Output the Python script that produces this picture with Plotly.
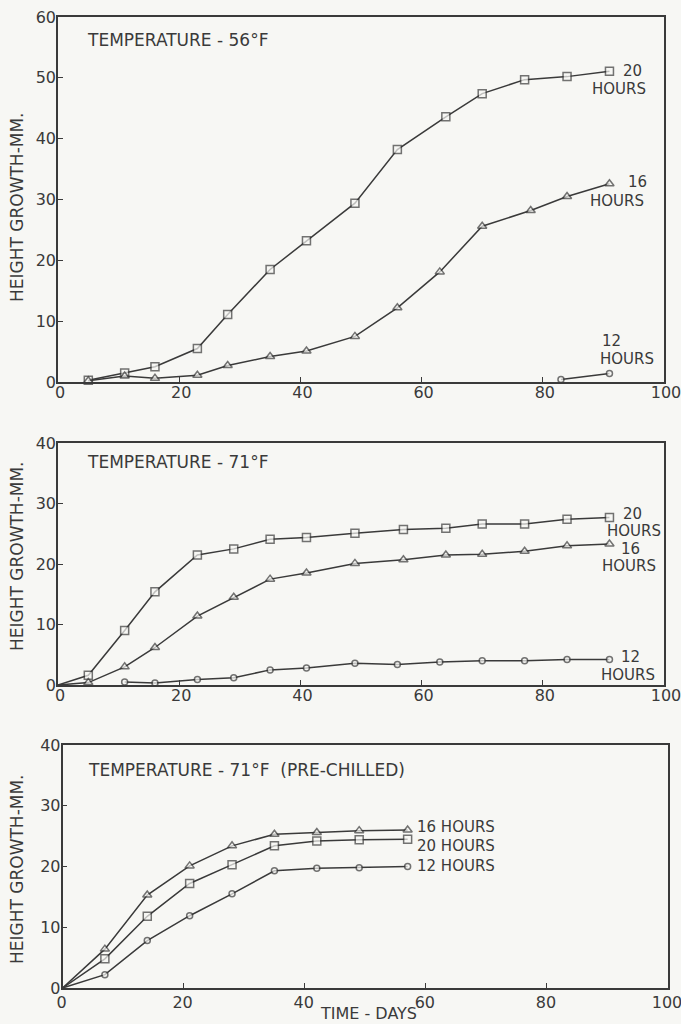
import plotly.graph_objects as go

# ---------------- data ----------------
# Panel 1: Temperature 56°F
p1_days_20 = [5, 11, 16, 23, 28, 35, 41, 49, 56, 64, 70, 77, 84, 91]
p1_h20 = [0.3, 1.5, 2.5, 5.5, 11.1, 18.5, 23.2, 29.4, 38.2, 43.6, 47.4, 49.7, 50.2, 51.1]
p1_days_16 = [5, 11, 16, 23, 28, 35, 41, 49, 56, 63, 70, 78, 84, 91]
p1_h16 = [0.2, 1.0, 0.6, 1.1, 2.7, 4.2, 5.1, 7.5, 12.2, 18.1, 25.6, 28.2, 30.5, 32.6]
p1_days_12 = [83, 91]
p1_h12 = [0.4, 1.4]

# Panel 2: Temperature 71°F
p2_days = [0, 5, 11, 16, 23, 29, 35, 41, 49, 57, 64, 70, 77, 84, 91]
p2_h20 = [0, 1.6, 9.0, 15.4, 21.5, 22.5, 24.1, 24.4, 25.1, 25.7, 25.9, 26.6, 26.6, 27.4, 27.7]
p2_h16 = [0, 0.4, 3.0, 6.2, 11.4, 14.5, 17.5, 18.5, 20.1, 20.7, 21.5, 21.6, 22.1, 23.0, 23.3]
p2_days_12 = [11, 16, 23, 29, 35, 41, 49, 56, 63, 70, 77, 84, 91]
p2_h12 = [0.5, 0.35, 0.9, 1.2, 2.5, 2.8, 3.6, 3.4, 3.8, 4.0, 4.0, 4.2, 4.2]

# Panel 3: Temperature 71°F (pre-chilled)
p3_days = [0, 7, 14, 21, 28, 35, 42, 49, 57]
p3_h16 = [0, 6.4, 15.3, 20.1, 23.4, 25.3, 25.6, 25.9, 26.0]
p3_h20 = [0, 4.8, 11.8, 17.2, 20.3, 23.4, 24.2, 24.4, 24.5]
p3_h12 = [0, 2.2, 7.8, 11.9, 15.5, 19.3, 19.7, 19.8, 20.0]

x_ticks = [0, 20, 40, 60, 80, 100]
p1_yticks = [0, 10, 20, 30, 40, 50, 60]
p23_yticks = [0, 10, 20, 30, 40]

titles = ["TEMPERATURE - 56°F", "TEMPERATURE - 71°F", "TEMPERATURE - 71°F  (PRE-CHILLED)"]
y_title = "HEIGHT GROWTH-MM."
x_title = "TIME - DAYS"

# ---------------- style ----------------
INK = "#3a3a3a"
BG = "#f7f7f4"
FONT = "DejaVu Sans"
W, H = 681, 1024

fig = go.Figure()


def series(x, y, symbol, size, xa, ya, skip_origin=False):
    sizes = [size] * len(x)
    if skip_origin:
        sizes[0] = 0
    fig.add_trace(go.Scatter(
        x=x, y=y, mode="lines+markers", xaxis=xa, yaxis=ya,
        line=dict(color=INK, width=1.5),
        marker=dict(symbol=symbol, size=sizes, color=BG,
                    line=dict(color=INK, width=1.5)),
        showlegend=False, hoverinfo="skip", cliponaxis=False))


series(p1_days_20, p1_h20, "square", 8, "x", "y")
series(p1_days_16, p1_h16, "triangle-up", 8, "x", "y")
series(p1_days_12, p1_h12, "circle", 6, "x", "y")

series(p2_days, p2_h20, "square", 8, "x2", "y2", True)
series(p2_days, p2_h16, "triangle-up", 8, "x2", "y2", True)
series(p2_days_12, p2_h12, "circle", 6, "x2", "y2")

series(p3_days, p3_h16, "triangle-up", 8, "x3", "y3", True)
series(p3_days, p3_h20, "square", 8, "x3", "y3", True)
series(p3_days, p3_h12, "circle", 6, "x3", "y3", True)


def px_to_dom(a, b, total, flip=False):
    if flip:
        return [1 - b / total, 1 - a / total]
    return [a / total, b / total]


axis_common = dict(showline=True, mirror=True, linecolor=INK, linewidth=1.6,
                   showgrid=False, zeroline=False, ticks="inside", ticklen=5,
                   tickcolor=INK, tickwidth=1.3, automargin=False,
                   ticklabeloverflow="allow",
                   tickfont=dict(family=FONT, size=16, color=INK))
xcommon = dict(axis_common, ticklabelstandoff=-5, ticklabelshift=2)
x3common = dict(axis_common, ticklabelstandoff=-1, ticklabelshift=-1)
ycommon = dict(axis_common, ticklabelstandoff=-3)

fig.update_layout(
    width=W, height=H, margin=dict(l=0, r=0, t=0, b=0, pad=0, autoexpand=False),
    paper_bgcolor=BG, plot_bgcolor=BG,
    xaxis=dict(domain=px_to_dom(58, 664, W), range=[0, 100], tickvals=x_ticks,
               anchor="y", **xcommon),
    yaxis=dict(domain=px_to_dom(17, 382, H, True), range=[0, 60], tickvals=p1_yticks,
               anchor="x", **ycommon),
    xaxis2=dict(domain=px_to_dom(58, 664, W), range=[0, 100], tickvals=x_ticks,
                anchor="y2", **xcommon),
    yaxis2=dict(domain=px_to_dom(443, 685, H, True), range=[0, 40], tickvals=p23_yticks,
                anchor="x2", **ycommon),
    xaxis3=dict(domain=px_to_dom(62.5, 668, W), range=[0, 100], tickvals=x_ticks,
                anchor="y3", **x3common),
    yaxis3=dict(domain=px_to_dom(745, 988, H, True), range=[0, 40], tickvals=p23_yticks,
                anchor="x3", **ycommon),
)

ann = []


def note(text, x, y, xr, yr, xanchor="left", size=15):
    ann.append(dict(text=text, x=x, y=y, xref=xr, yref=yr, showarrow=False,
                    xanchor=xanchor, yanchor="middle", borderpad=0,
                    font=dict(family=FONT, size=size, color=INK)))


# panel titles
note(titles[0], 4.6, 56.2, "x", "y", size=17)
note(titles[1], 4.6, 36.8, "x2", "y2", size=17)
note(titles[2], 4.0, 35.9, "x3", "y3", size=17)

# series labels panel 1
note("20", 93.0, 51.1, "x", "y")
note("HOURS", 92.6, 48.1, "x", "y", "center")
note("16", 93.9, 32.8, "x", "y")
note("HOURS", 92.3, 29.8, "x", "y", "center")
note("12", 91.3, 6.8, "x", "y", "center")
note("HOURS", 93.9, 3.8, "x", "y", "center")

# series labels panel 2
note("20", 93.1, 28.2, "x2", "y2")
note("HOURS", 95.1, 25.4, "x2", "y2", "center")
note("16", 92.7, 22.4, "x2", "y2")
note("HOURS", 94.2, 19.6, "x2", "y2", "center")
note("12", 92.7, 4.6, "x2", "y2")
note("HOURS", 94.1, 1.6, "x2", "y2", "center")

# series labels panel 3
note("16 HOURS", 58.3, 26.5, "x3", "y3")
note("20 HOURS", 58.3, 23.4, "x3", "y3")
note("12 HOURS", 58.3, 20.1, "x3", "y3")

# y titles (rotated)
for yc in (207, 556, 869):
    ann.append(dict(text=y_title, x=17 / W, y=1 - yc / H, xref="paper", yref="paper",
                    showarrow=False, textangle=-90, xanchor="center", yanchor="middle",
                    font=dict(family=FONT, size=17, color=INK)))

# x title
ann.append(dict(text=x_title, x=368 / W, y=1 - 1013 / H, xref="paper", yref="paper",
                showarrow=False, xanchor="center", yanchor="middle",
                font=dict(family=FONT, size=16, color=INK)))

fig.update_layout(annotations=ann)
fig.write_html("out.html")
